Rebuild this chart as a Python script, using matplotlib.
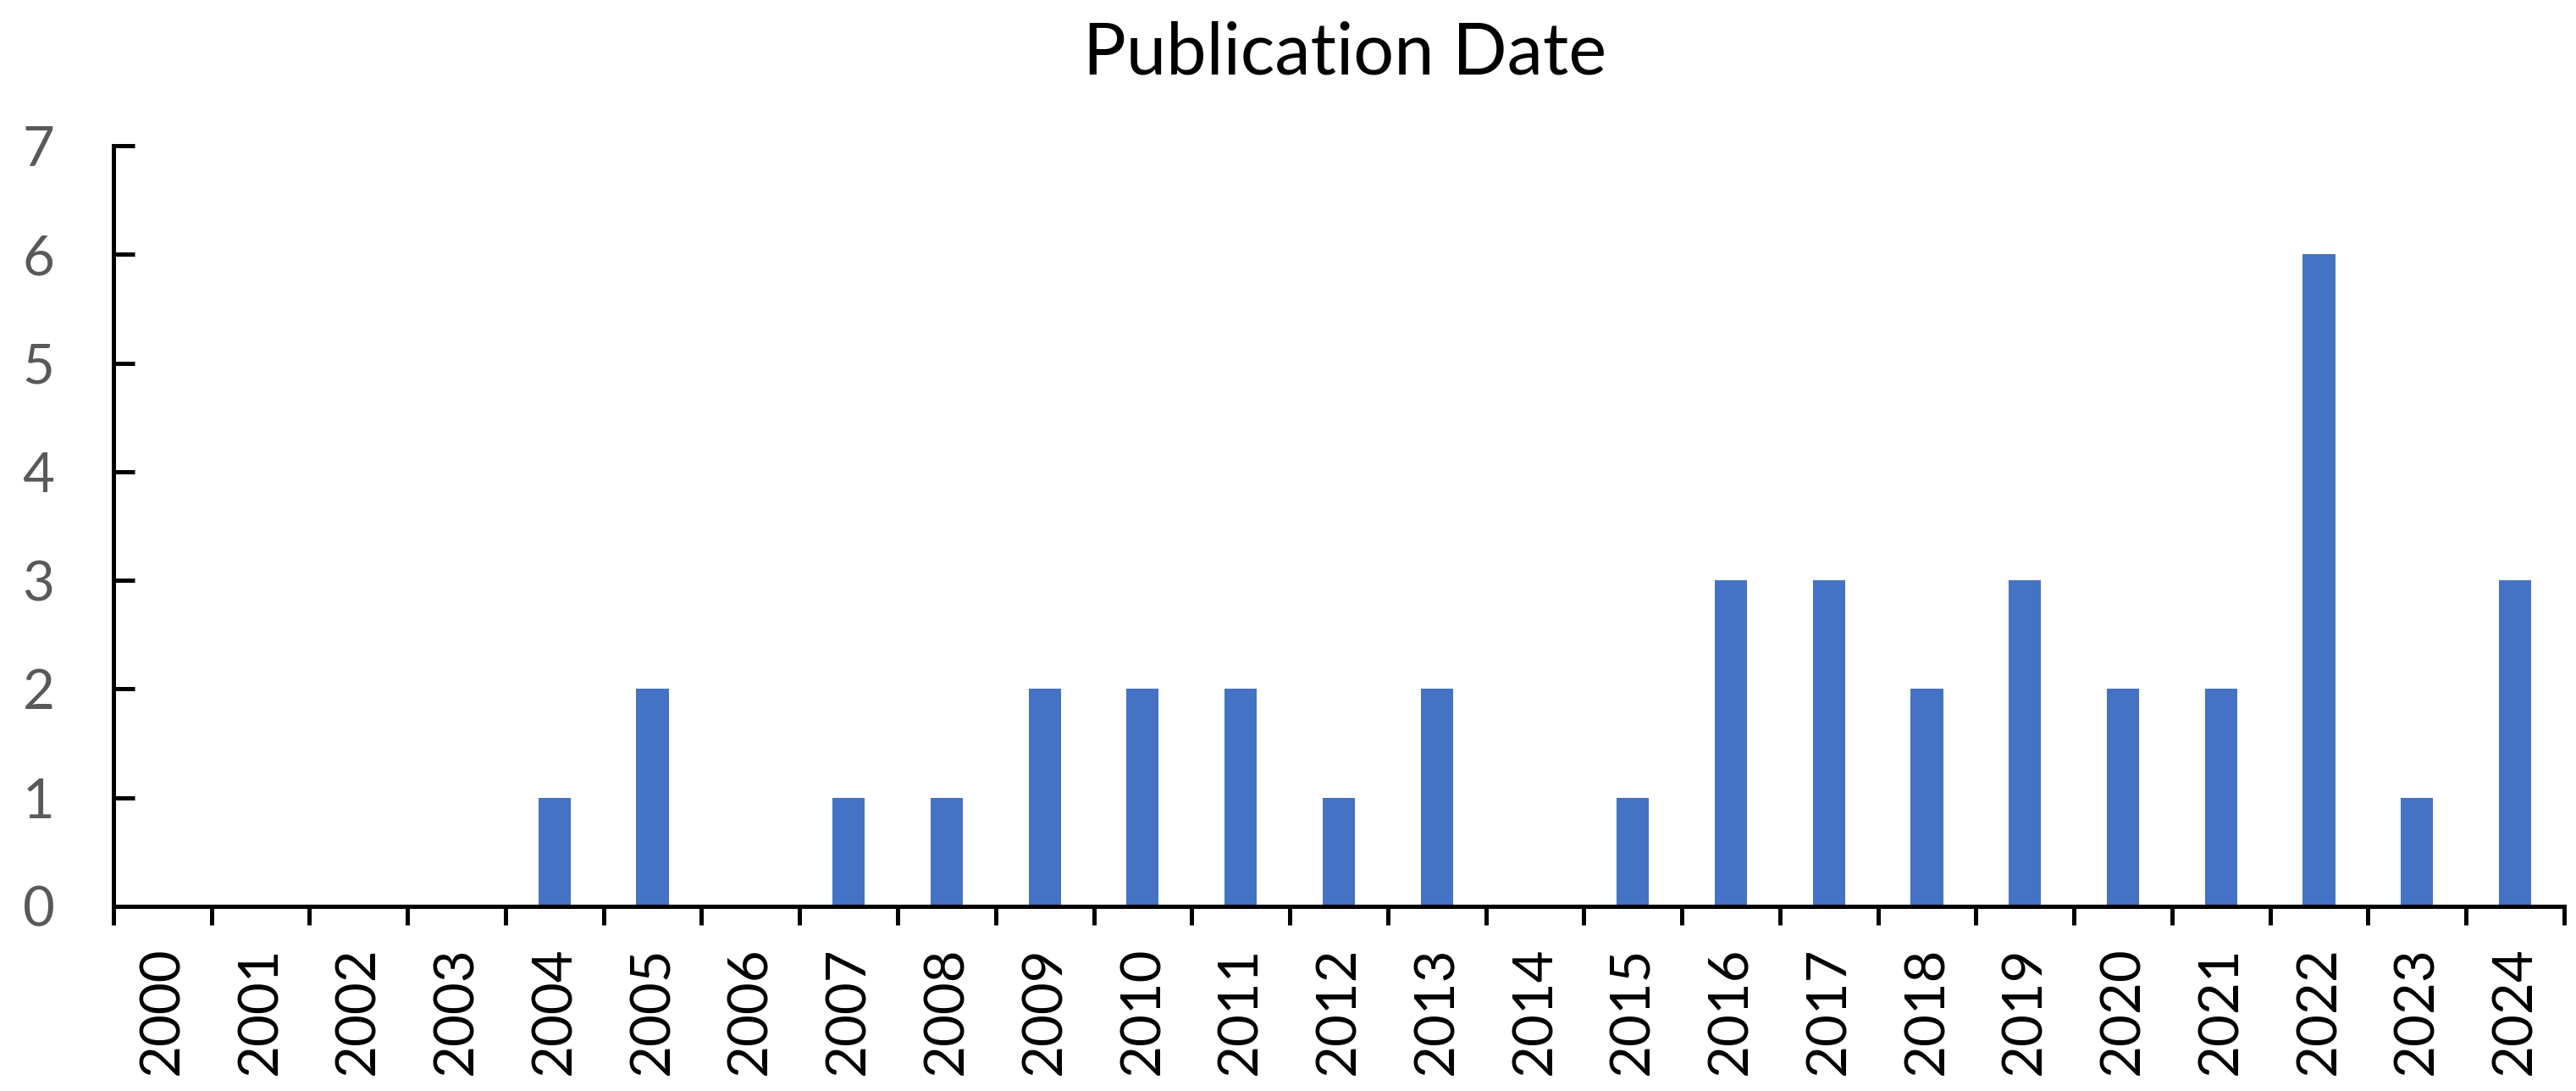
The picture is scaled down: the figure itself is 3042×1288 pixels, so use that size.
import matplotlib
matplotlib.use("Agg")
import matplotlib.pyplot as plt
import numpy as np

plt.rcParams['font.family'] = ['Lato', 'DejaVu Sans']

# 数据
years = [str(y) for y in range(2000, 2025)]
counts = [0, 0, 0, 0, 1, 2, 0, 1, 1, 2, 2, 2, 1, 2, 0, 1, 3, 3, 2, 3, 2, 2, 6, 1, 3]

fig = plt.figure(figsize=(30.42, 12.88), dpi=100)
ax = fig.add_axes([0.044, 0.1693, 0.9514, 0.6972])

x = np.arange(len(years))
ax.bar(x, counts, width=0.33, color='#4472C4')

ax.set_xlim(-0.5, len(years) - 0.5)
ax.set_ylim(0, 7)

ax.spines['top'].set_visible(False)
ax.spines['right'].set_visible(False)
for s in ['left', 'bottom']:
    ax.spines[s].set_linewidth(3.6)
    ax.spines[s].set_color('black')

# x轴：标签在中间，刻度线在类别边界
ax.set_xticks(x)
ax.set_xticklabels(years, rotation=90, fontsize=47, color='black')
ax.set_xticks(np.arange(-0.5, len(years)), minor=True)
ax.tick_params(axis='x', which='major', length=0, pad=34)
ax.tick_params(axis='x', which='minor', direction='out', length=16, width=3.6, color='black')

# y轴：刻度线朝内
ax.set_yticks(range(0, 8))
ax.tick_params(axis='y', direction='in', length=18, width=3.6, color='black',
               labelsize=47, labelcolor='#595959', pad=50)

# 标题
fig.text(0.522, 0.951, 'Publication Date', fontsize=61, color='black',
         ha='center', va='center')

plt.savefig('out.png', dpi=100)
